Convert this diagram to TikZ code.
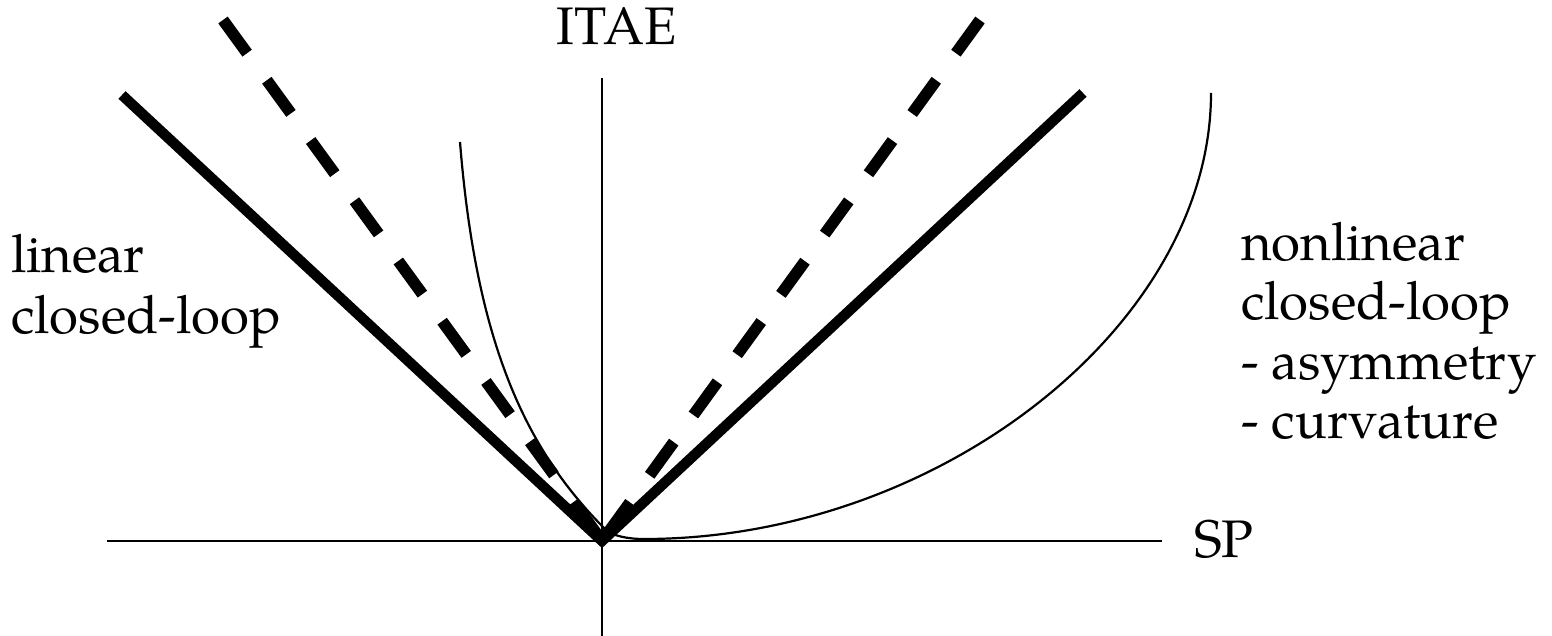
\documentclass[tikz,border=0pt]{standalone}
\usepackage{fontspec}
\setmainfont{TeX Gyre Pagella}
\begin{document}
\begin{tikzpicture}[x=0.5pt,y=-0.5pt,
  axis/.style={line width=1pt},
  solidlaw/.style={line width=5.2pt, line join=miter, line cap=butt},
  dashlaw/.style={line width=5.8pt, line cap=butt, dash pattern=on 20.5pt off 16.75pt},
  nlcurve/.style={line width=1.1pt, line join=round},
  lbl/.style={inner sep=0pt, outer sep=0pt, font=\fontsize{26.4pt}{31.7pt}\selectfont}]
\useasboundingbox (0,0) rectangle (1552,636);
% axes
\coordinate (O) at (602,541);
\coordinate (xl) at (107,541);
\coordinate (xr) at (1162,541);
\coordinate (yt) at (602,78);
\coordinate (yb) at (602,636);
\draw[axis] (xl) -- (xr);
\draw[axis] (yb) -- (yt);
% linear closed-loop (thick solid V)
\coordinate (sl) at (122,95);
\coordinate (sr) at (1083,93);
\draw[solidlaw] (sl) -- (O) -- (sr);
% dashed V
\coordinate (dl) at (223,20);
\coordinate (dr) at (980,20);
\draw[dashlaw] (dl) -- (O);
\draw[dashlaw] (dr) -- (O);
% nonlinear closed-loop curve
\coordinate (ct) at (460,142);
\coordinate (cm) at (605,529);
\coordinate (cb) at (644,539);
\coordinate (ce) at (1211,93);
\draw[nlcurve] (ct) .. controls (476,342) and (525,449) .. (cm)
  .. controls (612,536) and (628,539) .. (cb)
  .. controls (939,539) and (1211,325) .. (ce);
% labels
\node[lbl, anchor=base] (itae) at (616.5,45) {ITAE};
\node[lbl, anchor=base] (sp) at (1224,557) {SP};
\node[lbl, anchor=base west] (l1) at (11,272) {linear};
\node[lbl, anchor=base west] (l2) at (11,333) {closed-loop};
\node[lbl, anchor=base west] (r1) at (1241,261) {nonlinear};
\node[lbl, anchor=base west] (r2) at (1241,320) {closed-loop};
\node[lbl, anchor=base west] (r3) at (1241,379) {- asymmetry};
\node[lbl, anchor=base west] (r4) at (1241,438) {- curvature};
\end{tikzpicture}
\end{document}
